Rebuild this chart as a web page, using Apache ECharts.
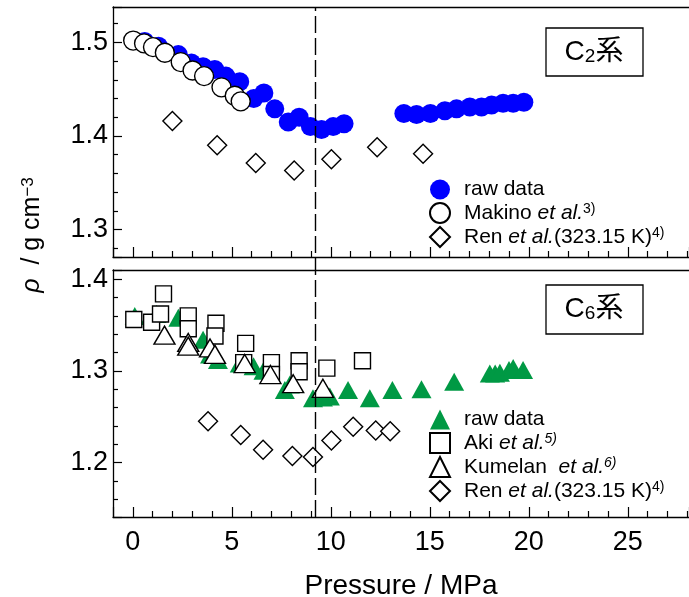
<!DOCTYPE html>
<html>
<head>
<meta charset="utf-8">
<script src="https://cdn.jsdelivr.net/npm/echarts@6/dist/echarts.min.js"></script>
<style>
html, body { margin: 0; padding: 0; background: #fff; }
#chart { width: 689px; height: 597px; }
</style>
</head>
<body>
<div id="chart"></div>
<script>
// [pressure / MPa, density / g cm-3]
const c2Raw = [[0.6,1.501],[1.3,1.496],[2.3,1.487],[2.96,1.478],[3.55,1.474],[4.14,1.471],[4.7,1.464],[5.4,1.458],
  [6.11,1.440],[6.62,1.446],[7.17,1.429],[7.85,1.415],[8.4,1.420],[8.97,1.410],[9.53,1.407],[10.12,1.410],[10.67,1.413],
  [13.69,1.424],[14.33,1.423],[15.03,1.424],[15.76,1.427],[16.35,1.429],[17.02,1.431],[17.61,1.431],[18.12,1.433],
  [18.7,1.435],[19.21,1.435],[19.75,1.436]];
const c2Makino = [[0.02,1.502],[0.57,1.499],[1.02,1.495],[1.62,1.489],[2.42,1.479],[3.02,1.470],[3.6,1.464],
  [4.48,1.452],[5.15,1.443],[5.45,1.437]];
const c2Ren = [[2.0,1.416],[4.26,1.390],[6.21,1.371],[8.15,1.363],[10.03,1.375],[12.34,1.388],[14.66,1.381]];

const c6Raw = [[0.1,1.360],[1.2,1.362],[2.3,1.358],[3.55,1.334],[3.9,1.318],[4.3,1.312],[5.4,1.308],[6.1,1.305],
  [6.6,1.300],[7.68,1.279],[7.93,1.285],[9.1,1.270],[9.6,1.271],[9.95,1.272],[10.87,1.279],[11.97,1.270],[13.11,1.279],
  [14.58,1.280],[16.23,1.288],[18.03,1.297],[18.3,1.297],[18.54,1.298],[19.0,1.301],[19.21,1.303],[19.71,1.301]];
const c6Aki = [[0.05,1.356],[0.95,1.353],[1.4,1.362],[1.55,1.384],[2.8,1.360],[2.8,1.346],[4.2,1.352],[4.15,1.338],
  [5.7,1.330],[5.6,1.309],[7.0,1.309],[7.0,1.296],[8.4,1.311],[8.4,1.299],[9.8,1.303],[11.6,1.311]];
const c6Kumelan = [[1.6,1.339],[2.8,1.331],[2.8,1.327],[3.9,1.325],[4.15,1.318],[5.65,1.308],[6.95,1.296],
  [8.1,1.286],[9.6,1.281]];
const c6Ren = [[3.8,1.245],[5.45,1.230],[6.58,1.214],[8.06,1.207],[9.1,1.206],[10.03,1.224],[11.13,1.239],
  [12.27,1.235],[13.0,1.234]];

const dashP = 9.2;
const pressureLabels = [0, 5, 10, 15, 20, 25];
const rhoLabelsC2 = [1.3, 1.4, 1.5];
const rhoLabelsC6 = [1.2, 1.3, 1.4];

const FONT = '"Liberation Sans", Arial, "Noto Sans CJK JP", sans-serif';
const BLACK = '#000';

const legendText = {
  c2raw: 'raw data',
  c2makino: 'Makino {i|et al.}{sup|3)}',
  c2ren: 'Ren {i|et al.}(323.15 K){sup|4)}',
  c6raw: 'raw data',
  c6aki: 'Aki {i|et al.}{supi|5)}',
  c6kumelan: 'Kumelan  {i|et al.}{supi|6)}',
  c6ren: 'Ren {i|et al.}(323.15 K){sup|4)}'
};

const chart = echarts.init(document.getElementById('chart'));

function xAxisBottom(grid, showLabels) {
  return {
    type: 'value', gridIndex: grid, min: -1, max: 28.09,
    minInterval: 5, maxInterval: 5,
    axisLine: { onZero: false, lineStyle: { color: BLACK, width: 1.3 } },
    axisTick: { inside: true, length: 10, lineStyle: { color: BLACK, width: 1.2 } },
    minorTick: { show: true, splitNumber: 5, length: 6, lineStyle: { color: BLACK, width: 1.2 } },
    splitLine: { show: false },
    axisLabel: {
      show: showLabels, color: BLACK, fontSize: 27, fontFamily: FONT, margin: 12,
      showMinLabel: false, showMaxLabel: false,
      formatter: v => (pressureLabels.includes(Math.round(v * 100) / 100) ? String(v) : '')
    },
    name: showLabels ? 'Pressure / MPa' : '',
    nameLocation: 'middle', nameGap: 55,
    nameTextStyle: { color: BLACK, fontSize: 28, fontFamily: FONT }
  };
}
function xAxisTop(grid) {
  return {
    type: 'value', gridIndex: grid, position: 'top', min: -1, max: 28.09,
    axisLine: { onZero: false, lineStyle: { color: BLACK, width: 1.3 } },
    axisTick: { show: false }, axisLabel: { show: false }, splitLine: { show: false }
  };
}
function yAxisPanel(grid, min, max, labels) {
  return {
    type: 'value', gridIndex: grid, min: min, max: max,
    minInterval: 0.1, maxInterval: 0.1,
    axisLine: { show: true, onZero: false, lineStyle: { color: BLACK, width: 1.3 } },
    axisTick: { inside: true, length: 9, lineStyle: { color: BLACK, width: 1.2 } },
    minorTick: { show: true, splitNumber: 5, length: 5, lineStyle: { color: BLACK, width: 1.2 } },
    splitLine: { show: false },
    axisLabel: {
      color: BLACK, fontSize: 27, fontFamily: FONT, margin: 5,
      showMinLabel: false, showMaxLabel: false,
      formatter: v => {
        const r = Math.round(v * 100) / 100;
        return labels.includes(r) ? r.toFixed(1) : '';
      }
    }
  };
}

function scatter(id, data, xi, yi, symbol, size, fill, stroke) {
  return {
    id: id, name: id, type: 'scatter', data: data,
    xAxisIndex: xi, yAxisIndex: yi,
    symbol: symbol, symbolSize: size,
    itemStyle: { color: fill, borderColor: stroke, borderWidth: stroke ? 1.4 : 0, opacity: 1 },
    emphasis: { disabled: true }
  };
}

const legendBase = {
  orient: 'vertical', itemWidth: 20, itemHeight: 20, itemGap: 2,
  selectedMode: false,
  formatter: name => legendText[name],
  textStyle: {
    color: BLACK, fontSize: 21, fontFamily: FONT, lineHeight: 21, padding: [0, 0, 0, 9],
    rich: {
      i: { fontSize: 21, fontStyle: 'italic', fontFamily: FONT, color: BLACK, lineHeight: 21 },
      sup: { fontSize: 14, fontFamily: FONT, color: BLACK, verticalAlign: 'top', lineHeight: 9 },
      supi: { fontSize: 14, fontStyle: 'italic', fontFamily: FONT, color: BLACK, verticalAlign: 'top', lineHeight: 9 }
    }
  }
};

const option = {
  backgroundColor: '#fff',
  animation: false,
  grid: [
    { left: 113, right: 0, top: 7, height: 250, outerBoundsMode: 'none', containLabel: false },
    { left: 113, right: 0, top: 270, height: 247, outerBoundsMode: 'none', containLabel: false },
    { left: 113, right: 0, top: 7, height: 510, outerBoundsMode: 'none', containLabel: false }
  ],
  xAxis: [
    xAxisBottom(0, false), xAxisTop(0),
    xAxisBottom(1, true), xAxisTop(1),
    { type: 'value', gridIndex: 2, min: -1, max: 28.09, show: false }
  ],
  yAxis: [
    yAxisPanel(0, 1.2706, 1.5379, rhoLabelsC2),
    yAxisPanel(1, 1.1405, 1.4101, rhoLabelsC6),
    { type: 'value', gridIndex: 2, min: 0, max: 1, show: false }
  ],
  legend: [
    Object.assign({}, legendBase, { left: 424, top: 174, data: ['c2raw', 'c2makino', 'c2ren'] }),
    Object.assign({}, legendBase, { left: 424, top: 404, data: ['c6raw', 'c6aki', 'c6kumelan', 'c6ren'] })
  ],
  series: [
    scatter('c2raw', c2Raw, 0, 0, 'circle', 19, '#0000ff', null),
    scatter('c2makino', c2Makino, 0, 0, 'circle', 19, '#fff', BLACK),
    scatter('c2ren', c2Ren, 0, 0, 'diamond', 19, '#fff', BLACK),
    scatter('c6raw', c6Raw, 2, 1, 'triangle', [20, 18], '#009944', null),
    scatter('c6aki', c6Aki, 2, 1, 'rect', 16, '#fff', BLACK),
    scatter('c6kumelan', c6Kumelan, 2, 1, 'triangle', [21, 18], '#fff', BLACK),
    scatter('c6ren', c6Ren, 2, 1, 'diamond', 19, '#fff', BLACK),
    {
      type: 'scatter', xAxisIndex: 4, yAxisIndex: 2, data: [], silent: true,
      markLine: {
        silent: true, symbol: 'none', label: { show: false },
        lineStyle: { color: BLACK, width: 1.4, type: [17, 5] },
        data: [{ xAxis: dashP }]
      }
    }
  ],
  graphic: [
    {
      type: 'text', x: 32, y: 235, rotation: Math.PI / 2,
      style: {
        text: '{i|ρ}  / g cm{sup|−3}', fill: BLACK, fontSize: 25, fontFamily: FONT,
        align: 'center', verticalAlign: 'middle',
        rich: {
          i: { fontSize: 25, fontStyle: 'italic', fontFamily: FONT },
          sup: { fontSize: 17, fontFamily: FONT, verticalAlign: 'top', lineHeight: 12 }
        }
      }
    },
    { type: 'rect', shape: { x: 546, y: 28, width: 97, height: 48 }, style: { fill: '#fff', stroke: BLACK, lineWidth: 1.3 } },
    {
      type: 'text', x: 594, y: 52,
      style: {
        text: 'C{s|2}系', fill: BLACK, fontSize: 28, fontFamily: FONT, align: 'center', verticalAlign: 'middle',
        rich: { s: { fontSize: 19, fontFamily: FONT, verticalAlign: 'bottom', lineHeight: 14 } }
      }
    },
    { type: 'rect', shape: { x: 546, y: 285, width: 97, height: 49 }, style: { fill: '#fff', stroke: BLACK, lineWidth: 1.3 } },
    {
      type: 'text', x: 594, y: 309,
      style: {
        text: 'C{s|6}系', fill: BLACK, fontSize: 28, fontFamily: FONT, align: 'center', verticalAlign: 'middle',
        rich: { s: { fontSize: 19, fontFamily: FONT, verticalAlign: 'bottom', lineHeight: 14 } }
      }
    }
  ]
};

chart.setOption(option);
</script>
</body>
</html>
